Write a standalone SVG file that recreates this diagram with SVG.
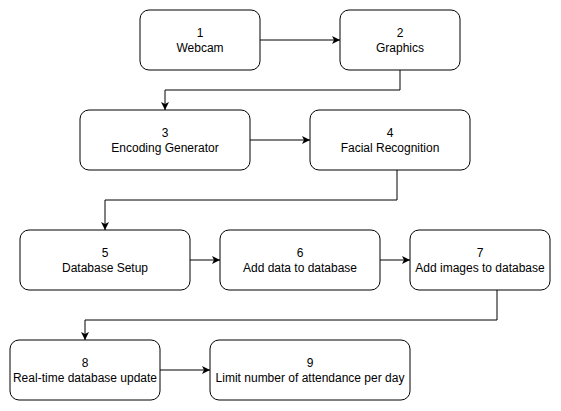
<svg xmlns="http://www.w3.org/2000/svg" width="561" height="411" viewBox="0 0 561 411">
<style>
.box{fill:#fff;stroke:#000;stroke-width:1}
.t{font-family:"Liberation Sans",Arial,sans-serif;font-size:12px;fill:#000;text-anchor:middle}
.c{fill:none;stroke:#000;stroke-width:1}
</style>
<defs>
<marker id="a" viewBox="0 0 10 10" refX="10" refY="5" markerWidth="8" markerHeight="8" markerUnits="userSpaceOnUse" orient="auto">
<path d="M0,0 L10,5 L0,10 L2.5,5 Z" fill="#000"/>
</marker>
</defs>
<rect width="561" height="411" fill="#fff"/>
<g id="connectors">
<path class="c" d="M260,40 H340" marker-end="url(#a)"/>
<path class="c" d="M400,70 V90 H165 V110" marker-end="url(#a)"/>
<path class="c" d="M250,140 H310" marker-end="url(#a)"/>
<path class="c" d="M397,170 V200 H105 V230" marker-end="url(#a)"/>
<path class="c" d="M190,260 H220" marker-end="url(#a)"/>
<path class="c" d="M380,260 H410" marker-end="url(#a)"/>
<path class="c" d="M497,290 V320 H85 V340" marker-end="url(#a)"/>
<path class="c" d="M160,370 H210" marker-end="url(#a)"/>
</g>
<g id="n1"><rect class="box" x="140" y="10" width="120" height="60" rx="9"/><text class="t" x="200" y="37">1</text><text class="t" x="200" y="52">Webcam</text></g>
<g id="n2"><rect class="box" x="340" y="10" width="120" height="60" rx="9"/><text class="t" x="400" y="37">2</text><text class="t" x="400" y="52">Graphics</text></g>
<g id="n3"><rect class="box" x="80" y="110" width="170" height="60" rx="9"/><text class="t" x="165" y="137">3</text><text class="t" x="165" y="152">Encoding Generator</text></g>
<g id="n4"><rect class="box" x="310" y="110" width="160" height="60" rx="9"/><text class="t" x="390" y="137">4</text><text class="t" x="390" y="152">Facial Recognition</text></g>
<g id="n5"><rect class="box" x="20" y="230" width="170" height="60" rx="9"/><text class="t" x="105" y="257">5</text><text class="t" x="105" y="272">Database Setup</text></g>
<g id="n6"><rect class="box" x="220" y="230" width="160" height="60" rx="9"/><text class="t" x="300" y="257">6</text><text class="t" x="300" y="272">Add data to database</text></g>
<g id="n7"><rect class="box" x="410" y="230" width="140" height="60" rx="9"/><text class="t" x="480" y="257">7</text><text class="t" x="480" y="272">Add images to database</text></g>
<g id="n8"><rect class="box" x="10" y="340" width="150" height="60" rx="9"/><text class="t" x="85" y="367">8</text><text class="t" x="85" y="382">Real-time database update</text></g>
<g id="n9"><rect class="box" x="210" y="340" width="200" height="60" rx="9"/><text class="t" x="310" y="367">9</text><text class="t" x="310" y="382">Limit number of attendance per day</text></g>
</svg>
